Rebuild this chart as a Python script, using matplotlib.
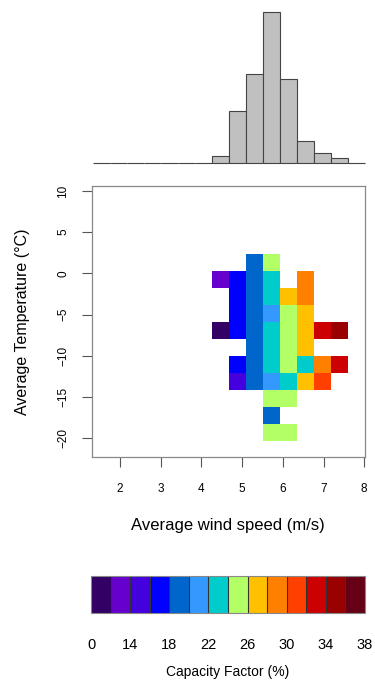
#!/usr/bin/env python3
"""Capacity factor by wind speed / temperature, with wind speed histogram on top."""
import numpy as np
import matplotlib
matplotlib.use("Agg")
import matplotlib.pyplot as plt
from matplotlib.colors import ListedColormap, BoundaryNorm

plt.rcParams["font.family"] = ["Liberation Sans", "DejaVu Sans"]

# wind speed bins (m/s), shared by the histogram and the grid
wind_edges = [1.33, 1.75, 2.17, 2.58, 3.00, 3.42, 3.84, 4.25, 4.67,
              5.09, 5.51, 5.93, 6.34, 6.76, 7.18, 7.60, 8.02]
wind_counts = [0, 0, 0, 0, 0, 0, 0, 3, 21, 36, 61, 34, 9, 4, 2, 0]

# temperature bins (deg C), top to bottom
temp_edges = [2.34, 0.28, -1.78, -3.84, -5.90, -7.96, -10.02,
              -12.08, -14.14, -16.20, -18.26, -20.32]
# grid columns cover wind_edges[7:16]
n = np.nan
capacity = [
    [n, n, 19, 25, n, n, n, n],
    [13, 17, 19, 23, n, 29, n, n],
    [n, 17, 19, 23, 27, 29, n, n],
    [n, 17, 19, 21, 25, 27, n, n],
    [11, 17, 19, 23, 25, 27, 33, 35],
    [n, n, 19, 23, 25, 27, n, n],
    [n, 17, 19, 23, 25, 23, 29, 33],
    [n, 15, 19, 21, 23, 27, 31, n],
    [n, n, n, 25, 25, n, n, n],
    [n, n, n, 19, n, n, n, n],
    [n, n, n, 25, 25, n, n, n],
]

cf_bounds = [0, 12, 14, 16, 18, 20, 22, 24, 26, 28, 30, 32, 34, 36, 38]
cf_ticks = [0, 14, 18, 22, 26, 30, 34, 38]
cf_colors = ["#330066", "#6600cc", "#4400dd", "#0000ff", "#0066cc", "#3399ff",
             "#00cccc", "#b3ff66", "#ffc000", "#ff8000", "#ff4000", "#cc0000",
             "#990000", "#660016"]

cmap = ListedColormap(cf_colors)
norm = BoundaryNorm(cf_bounds, cmap.N)
xlim = (1.30, 8.02)

fig = plt.figure(figsize=(3.75, 6.8), dpi=100)

# main grid
ax = fig.add_axes([0.2445, 0.3284, 0.7288, 0.398])
ax.pcolormesh(wind_edges[7:16], temp_edges, np.ma.masked_invalid(capacity),
              cmap=cmap, norm=norm)
ax.set_xlim(xlim)
ax.set_ylim(-22.26, 10.6)
ax.set_xticks([2, 3, 4, 5, 6, 7, 8])
ax.set_yticks([10, 5, 0, -5, -10, -15, -20])
ax.set_yticklabels(["10", "5", "0", "\u22125", "\u221210", "\u221215", "\u221220"],
                   rotation=90, va="center")
for s in ax.spines.values():
    s.set_color("#888888")
    s.set_linewidth(0.9)
ax.tick_params(length=7, width=0.8, color="#555555", labelsize=8.5, pad=12)
ax.tick_params(axis="y", pad=9)
ax.set_xlabel("Average wind speed (m/s)", fontsize=12, labelpad=16.5)
ax.set_ylabel("Average Temperature (\u00b0C)", fontsize=11.5, labelpad=20)

# histogram on top
hax = fig.add_axes([0.2445, 0.7599, 0.7288, 0.2229])
hax.bar(wind_edges[:-1], wind_counts, width=np.diff(wind_edges), align="edge",
        color="#c0c0c0", edgecolor="#444444", linewidth=0.8, clip_on=False)
hax.set_xlim(xlim)
hax.set_ylim(0, max(wind_counts))
hax.axis("off")

# colour key
cax = fig.add_axes([0.2427, 0.0990, 0.7307, 0.054])
cb = fig.colorbar(plt.cm.ScalarMappable(norm=norm, cmap=cmap), cax=cax,
                  orientation="horizontal", spacing="uniform", drawedges=True)
cb.outline.set_edgecolor("#888888")
cb.dividers.set_color("#333333")
cb.dividers.set_linewidth(0.8)
cb.set_ticks(cf_ticks)
cb.set_ticklabels([str(t) for t in cf_ticks])
cb.minorticks_off()
cax.tick_params(which="both", length=0, labelsize=10.5, pad=18)
cax.set_xlabel("Capacity Factor (%)", fontsize=10, labelpad=9.5)

fig.savefig("out.png", dpi=100)
